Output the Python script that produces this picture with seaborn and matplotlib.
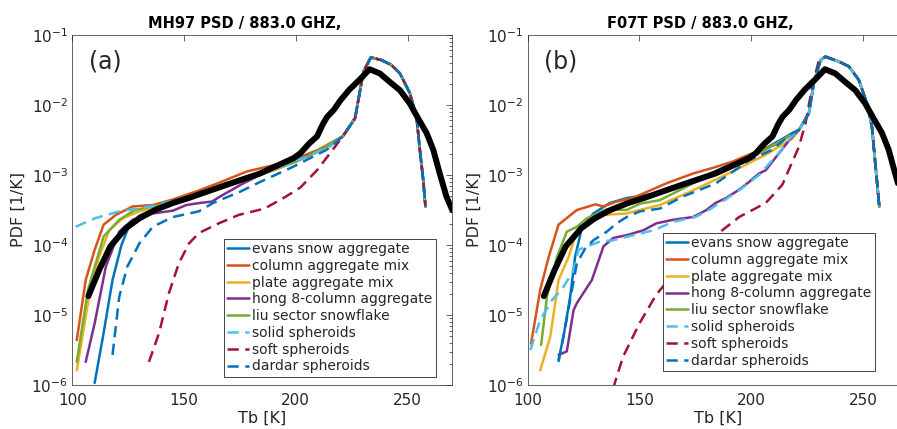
import numpy as np
import pandas as pd
import matplotlib
matplotlib.use("Agg")
import matplotlib.pyplot as plt
import seaborn as sns

# ---------------- data ----------------
# Observations (black), shared by both panels
obs_tb = [107.2, 112, 117, 124, 130, 137, 145, 152, 160, 169, 184, 199, 202, 206, 209.5, 212,
          214, 217, 220, 224, 228.5, 233, 237.6, 242, 246.6, 251, 254.7, 258.5, 261.5, 264.4, 267.4, 270]
obs_pdf = [1.86e-5, 4.37e-5, 9.55e-5, 1.74e-4, 2.40e-4, 3.16e-4, 3.98e-4, 4.68e-4, 5.75e-4, 7.24e-4,
           1.05e-3, 1.74e-3, 2.04e-3, 2.82e-3, 3.55e-3, 5.25e-3, 6.76e-3, 8.51e-3, 1.17e-2, 1.66e-2,
           2.29e-2, 3.24e-2, 2.82e-2, 2.14e-2, 1.62e-2, 1.05e-2, 6.46e-3, 3.98e-3, 2.29e-3, 1.05e-3,
           4.90e-4, 3.16e-4]

# ---- Panel (a): MH97 ----
tail_a_tb = [221, 226.5, 230.3, 233.6, 238.4, 242.8, 246.6, 251, 254, 255.5, 257, 258]
tail_a_pdf = [3.55e-3, 6.46e-3, 3.02e-2, 4.79e-2, 4.37e-2, 3.72e-2, 2.82e-2, 1.48e-2, 6.76e-3,
              2.29e-3, 8.51e-4, 3.55e-4]

evans_a_tb = [110, 114, 118, 122, 125, 130, 140, 150, 160, 170, 180, 190, 200, 210]
evans_a_pdf = [1.07e-6, 5.50e-6, 3.16e-5, 1.00e-4, 1.74e-4, 2.63e-4, 3.55e-4, 4.57e-4, 5.75e-4,
               7.24e-4, 9.33e-4, 1.17e-3, 1.55e-3, 2.19e-3]
column_a_tb = [102, 106, 110, 114, 119.5, 127, 136, 145, 155, 165, 178, 190, 200, 210]
column_a_pdf = [4.37e-6, 3.16e-5, 8.51e-5, 1.95e-4, 2.69e-4, 3.55e-4, 3.72e-4, 4.47e-4, 5.75e-4,
                7.59e-4, 1.12e-3, 1.38e-3, 1.70e-3, 2.29e-3]
plate_a_tb = [102, 107.5, 112, 116.5, 122.5, 130, 140, 150, 160, 170, 180, 190, 200, 210]
plate_a_pdf = [1.62e-6, 1.82e-5, 6.76e-5, 1.62e-4, 2.40e-4, 3.02e-4, 3.55e-4, 4.37e-4, 5.50e-4,
               6.92e-4, 9.12e-4, 1.17e-3, 1.55e-3, 2.19e-3]
hong_a_tb = [106, 110, 115, 121, 127, 136, 145, 151, 157, 162.5, 166, 176.5, 191.5, 200, 210]
hong_a_pdf = [2.14e-6, 7.59e-6, 4.90e-5, 1.55e-4, 2.29e-4, 2.82e-4, 3.09e-4, 3.72e-4, 3.98e-4,
              4.17e-4, 4.90e-4, 7.59e-4, 1.32e-3, 1.58e-3, 2.19e-3]
liu_a_tb = [102, 107, 114, 121, 128, 136, 145, 155, 165, 175, 185, 195, 205, 213]
liu_a_pdf = [2.14e-6, 2.29e-5, 1.32e-4, 2.29e-4, 3.16e-4, 3.55e-4, 4.07e-4, 5.01e-4, 6.31e-4,
             8.32e-4, 1.10e-3, 1.38e-3, 1.82e-3, 2.51e-3]
solid_a_tb = [101.5, 110, 121, 135, 145, 155, 165, 175, 185, 195, 205, 215]
solid_a_pdf = [1.82e-4, 2.40e-4, 3.02e-4, 3.55e-4, 4.27e-4, 5.25e-4, 6.61e-4, 8.51e-4, 1.10e-3,
               1.38e-3, 1.82e-3, 2.51e-3]
soft_a_tb = [134.3, 138.8, 143.2, 147.7, 152.2, 156.6, 165.6, 174.5, 186, 195, 202, 209.5, 216.5]
soft_a_pdf = [2.14e-6, 5.50e-6, 2.04e-5, 5.50e-5, 1.05e-4, 1.48e-4, 2.04e-4, 2.69e-4, 3.31e-4,
              4.79e-4, 6.61e-4, 1.17e-3, 2.29e-3]
dardar_a_tb = [118, 121, 124.6, 130, 136, 145, 156.6, 163, 175, 184, 199, 213.8]
dardar_a_pdf = [2.69e-6, 1.82e-5, 4.90e-5, 1.05e-4, 1.82e-4, 2.51e-4, 3.02e-4, 3.98e-4, 5.75e-4,
                7.94e-4, 1.32e-3, 2.29e-3]

# ---- Panel (b): F07T ----
rise_b_tb = [221.3, 225.8, 228, 231]
rise_b_pdf = [4.37e-3, 7.59e-3, 2.04e-2, 4.37e-2]
fall_b_tb = [233.2, 239.2, 243.7, 248.1, 251.8, 254, 255.5, 257.3]
fall_b_pdf = [4.90e-2, 4.17e-2, 3.55e-2, 2.29e-2, 1.05e-2, 4.90e-3, 1.48e-3, 3.55e-4]

evans_b_tb = [113.8, 116, 119, 121.2, 124.2, 129.4, 136.8, 144.3, 159.1, 174, 191.6, 206.5, 216.9]
evans_b_pdf = [2.29e-6, 4.90e-6, 1.82e-5, 6.76e-5, 1.74e-4, 2.82e-4, 3.98e-4, 4.68e-4, 5.50e-4,
               7.94e-4, 1.48e-3, 2.40e-3, 3.72e-3]
column_b_tb = [101.5, 105.6, 109.4, 113.8, 122, 130.2, 133.9, 139.8, 147, 162, 174, 182.7, 191.6, 199, 210]
column_b_pdf = [3.89e-6, 2.29e-5, 6.76e-5, 1.95e-4, 3.16e-4, 3.80e-4, 3.55e-4, 4.17e-4, 4.68e-4,
                7.59e-4, 1.05e-3, 1.26e-3, 1.55e-3, 1.95e-3, 2.63e-3]
plate_b_tb = [105.6, 110.1, 113.8, 118.3, 122, 128, 133.9, 144.3, 150.2, 159.1, 174, 191.6, 206.5, 218.4]
plate_b_pdf = [1.62e-6, 4.90e-6, 3.16e-5, 6.76e-5, 1.55e-4, 2.14e-4, 2.69e-4, 2.82e-4, 3.16e-4,
               3.72e-4, 6.03e-4, 1.12e-3, 1.95e-3, 3.31e-3]
hong_b_tb = [113.8, 117.5, 120.5, 122, 128.7, 133.9, 138.3, 144.3, 151.7, 157.6, 165.1, 174, 180,
             184, 188.7, 194.6, 199, 203.5, 206.5, 212.4, 218.4]
hong_b_pdf = [2.69e-6, 3.02e-6, 1.17e-5, 1.48e-5, 3.16e-5, 9.55e-5, 1.26e-4, 1.38e-4, 1.62e-4,
              2.04e-4, 2.29e-4, 2.51e-4, 3.16e-4, 3.98e-4, 4.68e-4, 6.17e-4, 7.94e-4, 1.05e-3,
              1.17e-3, 2.04e-3, 3.55e-3]
liu_b_tb = [106, 108.6, 113.1, 117.5, 122, 126.4, 135.4, 144.3, 150.2, 159.1, 166.6, 177, 191.6, 206.5]
liu_b_pdf = [3.72e-6, 1.82e-5, 6.76e-5, 1.55e-4, 1.82e-4, 2.40e-4, 3.24e-4, 3.16e-4, 3.89e-4,
             4.37e-4, 5.75e-4, 8.51e-4, 1.32e-3, 2.29e-3]
solid_b_tb = [101.2, 105.6, 110.8, 116, 120.5, 122.7, 126.4, 132.4, 138.3, 147.2, 156.2, 165.1, 175,
              180, 188, 195, 203.5, 212, 218]
solid_b_pdf = [3.16e-6, 8.51e-6, 1.62e-5, 2.51e-5, 4.37e-5, 8.51e-5, 9.55e-5, 1.12e-4, 1.17e-4,
               1.38e-4, 1.62e-4, 2.14e-4, 2.51e-4, 3.02e-4, 4.37e-4, 6.17e-4, 1.00e-3, 2.00e-3, 3.55e-3]
soft_b_tb = [136.5, 138.9, 142.6, 150, 157.5, 167.9, 182.7, 194.6, 206.5, 213.9, 221.3, 224.3, 227.3, 230.3]
soft_b_pdf = [5.01e-7, 1.05e-6, 2.51e-6, 7.59e-6, 1.95e-5, 4.90e-5, 1.26e-4, 2.51e-4, 3.98e-4,
              7.24e-4, 2.51e-3, 5.50e-3, 1.82e-2, 4.37e-2]
dardar_b_tb = [113.8, 116.8, 119.8, 122, 125.7, 129.4, 135.4, 139.8, 144.3, 150.2, 159.1, 169.3,
               184.2, 199.1, 209.4, 218.4]
dardar_b_pdf = [2.14e-6, 6.76e-6, 2.29e-5, 5.50e-5, 8.91e-5, 1.17e-4, 1.55e-4, 2.04e-4, 2.51e-4,
                3.02e-4, 3.31e-4, 4.90e-4, 7.59e-4, 1.62e-3, 2.29e-3, 3.98e-3]

labels = ["evans snow aggregate", "column aggregate mix", "plate aggregate mix",
          "hong 8-column aggregate", "liu sector snowflake", "solid spheroids",
          "soft spheroids", "dardar spheroids"]
titles = ["MH97 PSD / 883.0 GHZ,", "F07T PSD / 883.0 GHZ,"]
panel_tags = ["(a)", "(b)"]
xticks = [100, 150, 200, 250]

# ---------------- style ----------------
colors = ["#0072BD", "#D95319", "#EDB120", "#7E2F8E", "#77AC30", "#4DBEEE", "#A2142F", "#0072BD"]
dashed = [False, False, False, False, False, True, True, True]

sns.set_theme(style="white")
plt.rcParams["font.family"] = ["DejaVu Sans"]
plt.rcParams["mathtext.fontset"] = "dejavusans"

fig = plt.figure(figsize=(8.97, 4.29), dpi=100)
ax_a = fig.add_axes([0.0806, 0.1026, 0.4236, 0.8159])
ax_b = fig.add_axes([0.5883, 0.1026, 0.4236, 0.8159])

series_a = [
    (evans_a_tb + tail_a_tb, evans_a_pdf + tail_a_pdf),
    (column_a_tb + tail_a_tb, column_a_pdf + tail_a_pdf),
    (plate_a_tb + tail_a_tb, plate_a_pdf + tail_a_pdf),
    (hong_a_tb + tail_a_tb, hong_a_pdf + tail_a_pdf),
    (liu_a_tb + tail_a_tb, liu_a_pdf + tail_a_pdf),
    (solid_a_tb + tail_a_tb, solid_a_pdf + tail_a_pdf),
    (soft_a_tb + tail_a_tb, soft_a_pdf + tail_a_pdf),
    (dardar_a_tb + tail_a_tb, dardar_a_pdf + tail_a_pdf),
]
series_b = [
    (evans_b_tb + rise_b_tb + fall_b_tb, evans_b_pdf + rise_b_pdf + fall_b_pdf),
    (column_b_tb + rise_b_tb + fall_b_tb, column_b_pdf + rise_b_pdf + fall_b_pdf),
    (plate_b_tb + rise_b_tb + fall_b_tb, plate_b_pdf + rise_b_pdf + fall_b_pdf),
    (hong_b_tb + rise_b_tb + fall_b_tb, hong_b_pdf + rise_b_pdf + fall_b_pdf),
    (liu_b_tb + rise_b_tb + fall_b_tb, liu_b_pdf + rise_b_pdf + fall_b_pdf),
    (solid_b_tb + rise_b_tb + fall_b_tb, solid_b_pdf + rise_b_pdf + fall_b_pdf),
    (soft_b_tb + fall_b_tb, soft_b_pdf + fall_b_pdf),
    (dardar_b_tb + rise_b_tb + fall_b_tb, dardar_b_pdf + rise_b_pdf + fall_b_pdf),
]

axis_col = "#262626"
leg_anchor = [(0.957, 0.023), (0.914, 0.040)]

for k, (ax, series) in enumerate([(ax_a, series_a), (ax_b, series_b)]):
    for (tb, pdf), lab, col, dsh in zip(series, labels, colors, dashed):
        df = pd.DataFrame({"Tb": tb, "PDF": pdf})
        ls = (0, (4.5, 2.6)) if dsh else "-"
        sns.lineplot(data=df, x="Tb", y="PDF", ax=ax, color=col, lw=1.8, linestyle=ls,
                     sort=False, estimator=None, label=lab, legend=False)
    dfo = pd.DataFrame({"Tb": obs_tb, "PDF": obs_pdf})
    sns.lineplot(data=dfo, x="Tb", y="PDF", ax=ax, color="black", lw=4.3,
                 sort=False, estimator=None, legend=False, zorder=5)

    ax.set_yscale("log")
    ax.set_xlim(100, 270)
    ax.set_ylim(1e-6, 1e-1)
    ax.set_xticks(xticks)
    ax.tick_params(which="both", direction="in", top=True, right=True,
                   colors=axis_col, labelsize=11, width=0.5)
    ax.tick_params(which="major", length=4)
    ax.tick_params(which="minor", length=2.2)
    ax.tick_params(axis="x", pad=6)
    ax.tick_params(axis="y", pad=3)
    for s in ax.spines.values():
        s.set_color(axis_col)
        s.set_linewidth(0.5)
    ax.set_xlabel("Tb [K]", fontsize=11.5, color=axis_col, labelpad=2)
    ax.set_ylabel("PDF [1/K]", fontsize=11.5, color=axis_col, labelpad=4)
    ax.text(0.454, 1.02, titles[k], transform=ax.transAxes, ha="center", va="baseline",
            fontsize=10.5, fontweight="bold", color="black")
    ax.text(0.044, 0.923, panel_tags[k], transform=ax.transAxes, ha="left", va="center",
            fontsize=17, color=axis_col)
    leg = ax.legend(loc="lower right", bbox_to_anchor=leg_anchor[k], borderaxespad=0,
                    fontsize=10, frameon=True, fancybox=False, framealpha=1,
                    edgecolor=axis_col, handlelength=1.6, handletextpad=0.2,
                    labelspacing=0.2, borderpad=0.25)
    leg.get_frame().set_linewidth(0.6)
    for t in leg.get_texts():
        t.set_color(axis_col)

fig.savefig("out.png", dpi=100)
